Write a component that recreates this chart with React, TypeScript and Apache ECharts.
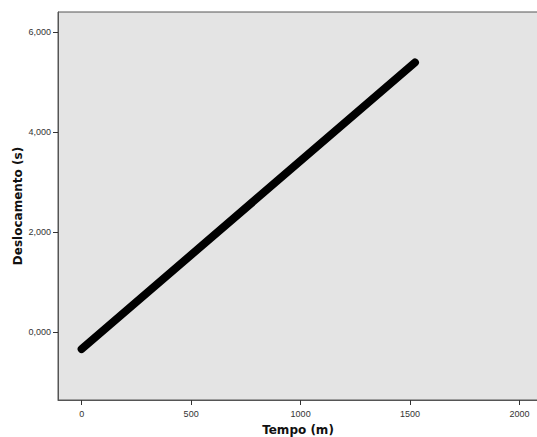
import React, { useEffect, useRef } from "react";
import * as echarts from "echarts";

const xTicks = [0, 500, 1000, 1500, 2000];
const yTicks = [0, 2, 4, 6];
const lineData: [number, number][] = [
  [0, -0.34],
  [1522, 5.4],
];
const xName = "Tempo (m)";
const yName = "Deslocamento (s)";

export default function App() {
  const ref = useRef<HTMLDivElement>(null);
  useEffect(() => {
    if (!ref.current) return;
    const chart = echarts.init(ref.current, undefined, { renderer: "svg" });
    const font = "'Liberation Sans', Arial, sans-serif";
    const titleFont = "'DejaVu Sans', Verdana, sans-serif";
    chart.setOption({
      animation: false,
      backgroundColor: "#ffffff",
      grid: {
        left: 58,
        top: 12,
        width: 480,
        height: 388,
        show: true,
        backgroundColor: "#e4e4e4",
        borderColor: "#555555",
        borderWidth: 1,
        outerBoundsMode: "none",
        containLabel: false,
      },
      xAxis: {
        type: "value",
        min: -108,
        max: 2084,
        name: xName,
        nameLocation: "middle",
        nameGap: 24,
        nameMoveOverlap: false,
        nameTextStyle: { fontFamily: titleFont, fontSize: 12, fontWeight: "bold", color: "#111" },
        axisLine: { show: true, onZero: false, lineStyle: { color: "#555555", width: 1 } },
        axisTick: { show: true, inside: false, length: 5, customValues: xTicks, lineStyle: { color: "#333" } },
        axisLabel: {
          customValues: xTicks,
          fontFamily: font,
          fontSize: 9,
          color: "#333",
          margin: 9,
          formatter: (v: number) => String(v),
        },
        splitLine: { show: false },
      },
      yAxis: {
        type: "value",
        min: -1.36,
        max: 6.41,
        name: yName,
        nameLocation: "middle",
        nameGap: 34,
        nameMoveOverlap: false,
        nameTextStyle: { fontFamily: titleFont, fontSize: 12, fontWeight: "bold", color: "#111" },
        axisLine: { show: true, onZero: false, lineStyle: { color: "#555555", width: 1 } },
        axisTick: { show: true, inside: false, length: 5, customValues: yTicks, lineStyle: { color: "#333" } },
        axisLabel: {
          customValues: yTicks,
          fontFamily: font,
          fontSize: 9,
          color: "#333",
          margin: 7,
          formatter: (v: number) => v.toFixed(3).replace(".", ","),
        },
        splitLine: { show: false },
      },
      series: [
        {
          type: "line",
          data: lineData,
          symbol: "none",
          lineStyle: { color: "#000000", width: 8, cap: "round" },
        },
      ],
    });
    return () => chart.dispose();
  }, []);
  return (
    <div
      ref={ref}
      style={{ position: "absolute", left: 0, top: 0, width: 537, height: 437 }}
    />
  );
}
